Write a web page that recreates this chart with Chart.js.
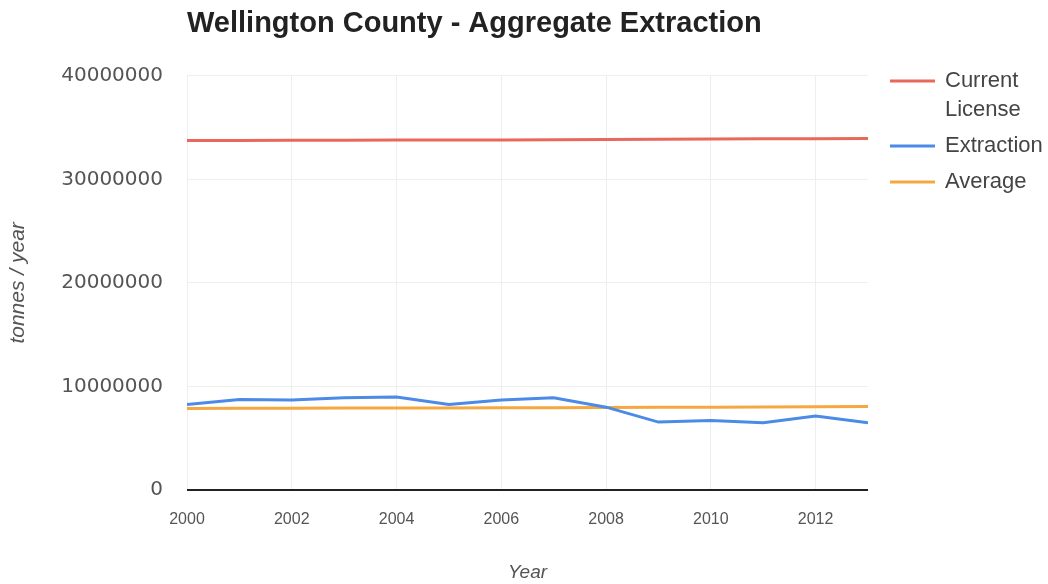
<!DOCTYPE html>
<html>
<head>
<meta charset="utf-8">
<script src="https://cdn.jsdelivr.net/npm/chart.js@4"></script>
<style>
  html, body { margin: 0; padding: 0; background: #fff; }
  #wrap { width: 1048px; height: 584px; }
</style>
</head>
<body>
<div id="wrap"><canvas id="chart"></canvas></div>
<script>
const years = [2000, 2001, 2002, 2003, 2004, 2005, 2006, 2007, 2008, 2009, 2010, 2011, 2012, 2013];
const currentLicense = [33750000, 33760000, 33770000, 33780000, 33790000, 33800000, 33810000, 33830000, 33850000, 33870000, 33890000, 33910000, 33930000, 33950000];
const extraction = [8260000, 8740000, 8680000, 8900000, 8970000, 8260000, 8680000, 8900000, 8000000, 6560000, 6720000, 6490000, 7140000, 6490000];
const average = [7880000, 7890000, 7900000, 7910000, 7920000, 7930000, 7940000, 7950000, 7960000, 7980000, 8000000, 8020000, 8040000, 8060000];
const yTicks = [0, 10000000, 20000000, 30000000, 40000000];
const xTicks = [2000, 2002, 2004, 2006, 2008, 2010, 2012];

const legendNames = [['Current', 'License'], ['Extraction'], ['Average']];
const colors = ['#e8695b', '#4b8ae6', '#f6a840'];
const font = 'Liberation Sans, Arial, sans-serif';

function series(vals) {
    return years.map((y, i) => ({x: y, y: vals[i]}));
}

// legend drawn by hand so the first label can wrap onto two lines
const sideLegend = {
    id: 'sideLegend',
    afterDraw(chart) {
        const c = chart.ctx;
        c.save();
        c.font = '22px ' + font;
        c.fillStyle = '#444';
        c.textBaseline = 'middle';
        let y = 81;
        chart.data.datasets.forEach((ds, i) => {
            c.strokeStyle = ds.borderColor;
            c.lineWidth = 3;
            c.beginPath();
            c.moveTo(890, y);
            c.lineTo(935, y);
            c.stroke();
            legendNames[i].forEach((line, j) => {
                c.fillText(line, 945, y + j * 29);
            });
            y += legendNames[i].length * 29 + 7;
        });
        c.restore();
    }
};

new Chart(document.getElementById('chart'), {
    type: 'line',
    data: {
        datasets: [
            {label: 'Current License', data: series(currentLicense), borderColor: colors[0], backgroundColor: colors[0]},
            {label: 'Extraction', data: series(extraction), borderColor: colors[1], backgroundColor: colors[1]},
            {label: 'Average', data: series(average), borderColor: colors[2], backgroundColor: colors[2]}
        ]
    },
    options: {
        responsive: true,
        maintainAspectRatio: false,
        animation: false,
        layout: {padding: {top: 5, right: 180, bottom: 0, left: 0}},
        elements: {
            line: {borderWidth: 3, tension: 0},
            point: {radius: 0}
        },
        plugins: {
            legend: {display: false},
            tooltip: {enabled: false},
            title: {
                display: true,
                text: 'Wellington County - Aggregate Extraction',
                align: 'start',
                fullSize: false,
                color: '#222',
                font: {family: font, size: 29, weight: 'bold'},
                padding: {top: 2, bottom: 34}
            }
        },
        scales: {
            x: {
                type: 'linear',
                min: 2000,
                max: 2013,
                afterBuildTicks(scale) {
                    scale.ticks = xTicks.map(v => ({value: v}));
                },
                ticks: {
                    color: '#555',
                    font: {family: font, size: 16},
                    padding: 20,
                    maxRotation: 0,
                    callback: v => String(v)
                },
                grid: {color: '#eeeeee', drawTicks: false},
                border: {display: false},
                title: {
                    display: true,
                    text: 'Year',
                    color: '#555',
                    font: {family: font, size: 19, style: 'italic'},
                    padding: {top: 12, bottom: 0}
                }
            },
            y: {
                min: 0,
                max: 40000000,
                afterBuildTicks(scale) {
                    scale.ticks = yTicks.map(v => ({value: v}));
                },
                afterFit(scale) {
                    scale.width = 187;
                },
                ticks: {
                    color: '#555',
                    font: {family: 'DejaVu Sans, sans-serif', size: 20},
                    padding: 24,
                    callback: v => String(v)
                },
                grid: {
                    color: ctx => ctx.tick && ctx.tick.value === 0 ? '#222' : '#eeeeee',
                    lineWidth: ctx => ctx.tick && ctx.tick.value === 0 ? 2 : 1,
                    drawTicks: false
                },
                border: {display: false},
                title: {
                    display: true,
                    text: 'tonnes / year',
                    color: '#555',
                    font: {family: font, size: 21, style: 'italic'},
                    padding: {top: 6, bottom: 0}
                }
            }
        }
    },
    plugins: [sideLegend]
});
</script>
</body>
</html>
